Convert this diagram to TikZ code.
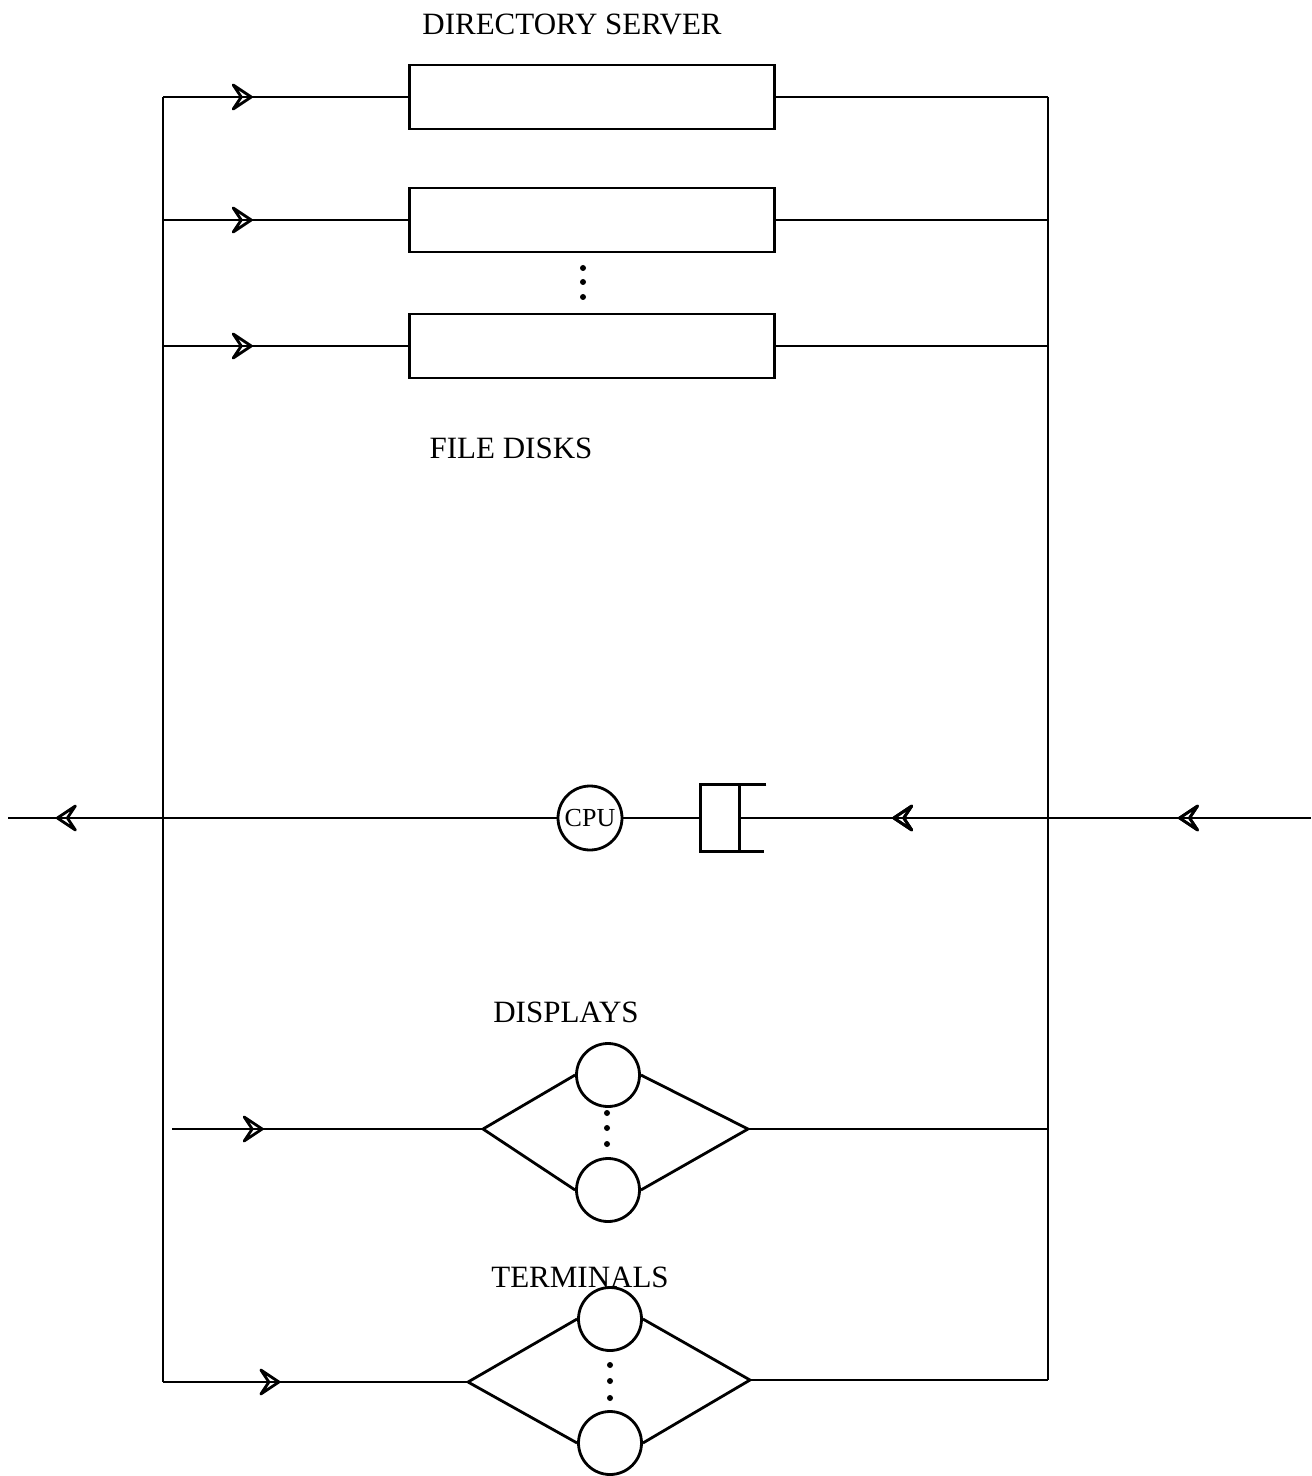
\documentclass[tikz,border=0pt]{standalone}
\usepackage{fontspec}
\setmainfont{Liberation Serif}
\usetikzlibrary{decorations.markings}
\begin{document}
\begin{tikzpicture}[x=0.5pt,y=-0.5pt,line width=1.4pt,
  disk/.style={draw,rectangle,minimum width=182.5pt,minimum height=32pt,inner sep=0pt},
  srv/.style={draw,circle,minimum size=31.5pt,inner sep=0pt},
  lbl/.style={font=\fontsize{15.5}{18}\selectfont},
  arrowat/.style={postaction={decorate},decoration={markings,mark=at position #1 with {\draw[line width=1.4pt,line join=round] (-9pt,6pt) -- (0,0) -- (-9pt,-6pt) -- (-5pt,0) -- cycle;}}},
  dotm/.style={fill,circle,inner sep=0pt,minimum size=3pt}]
\useasboundingbox (0,0) rectangle (1311,1476);
% outer bus lines
\coordinate (LT) at (163,97);
\coordinate (LB) at (163,1382);
\coordinate (RT) at (1048,97);
\coordinate (RB) at (1048,1380);
\draw (LT) -- (LB);
\draw (RT) -- (RB);
% disks
\node[disk] (d1) at (592,97) {};
\node[disk] (d2) at (592,220) {};
\node[disk] (d3) at (592,346) {};
\node[lbl] (ds) at (572,24) {DIRECTORY SERVER};
\node[lbl] (fd) at (511,448) {FILE DISKS};
\node[dotm] (k1) at (583,268) {};
\node[dotm] (k2) at (583,282) {};
\node[dotm] (k3) at (583,297) {};
\coordinate (l2) at (163,220);
\coordinate (l3) at (163,346);
\coordinate (r2) at (1048,220);
\coordinate (r3) at (1048,346);
\draw[arrowat=0.36] (LT) -- (d1.west);
\draw[arrowat=0.36] (l2) -- (d2.west);
\draw[arrowat=0.36] (l3) -- (d3.west);
\draw (d1.east) -- (RT);
\draw (d2.east) -- (r2);
\draw (d3.east) -- (r3);
% CPU
\node[srv,minimum size=32pt,font=\fontsize{13}{15}\selectfont] (cpu) at (590,818) {CPU};
\node[rectangle,minimum width=18pt,minimum height=32pt,inner sep=0pt] (q) at (720,818) {};
\draw (q.north east) ++(13.5pt,0) coordinate (qa) -- (q.north west) -- (q.south west) -- ++(31.5pt,0) coordinate (qb);
\draw (q.north east) -- (q.south east);
\coordinate (out) at (8,818);
\coordinate (in) at (1311,818);
\draw (cpu.east) -- (q.west);
\draw[arrowat=0.91] (cpu.west) -- (out);
\draw[arrowat=0.23,postaction={decorate},decoration={markings,mark=at position 0.73 with {\draw[line width=1.4pt,line join=round] (-9pt,6pt) -- (0,0) -- (-9pt,-6pt) -- (-5pt,0) -- cycle;}}] (in) -- (q.east);
% displays
\node[srv] (a1) at (608,1075) {};
\node[srv] (a2) at (608,1190) {};
\node[lbl] (dl) at (566,1012) {DISPLAYS};
\coordinate (aL) at (483,1129);
\coordinate (aR) at (748,1129);
\coordinate (aS) at (172,1129);
\coordinate (aE) at (1048,1129);
\draw (aL) -- (a1.west) (a1.east) -- (aR) -- (a2.east) (a2.west) -- (aL);
\node[dotm] at (607,1113) {};
\node[dotm] at (607,1128) {};
\node[dotm] at (607,1144) {};
\draw[arrowat=0.29] (aS) -- (aL);
\draw (aR) -- (aE);
% terminals
\node[srv] (t1) at (610,1319) {};
\node[srv] (t2) at (610,1443) {};
\node[lbl] (tl) at (580,1277) {TERMINALS};
\coordinate (tL) at (468,1382);
\coordinate (tR) at (750,1380);
\draw (tL) -- (t1.west) (t1.east) -- (tR) -- (t2.east) (t2.west) -- (tL);
\node[dotm] at (610,1365) {};
\node[dotm] at (610,1381) {};
\node[dotm] at (610,1398) {};
\draw[arrowat=0.38] (LB) -- (tL);
\draw (tR) -- (RB);
\end{tikzpicture}
\end{document}
